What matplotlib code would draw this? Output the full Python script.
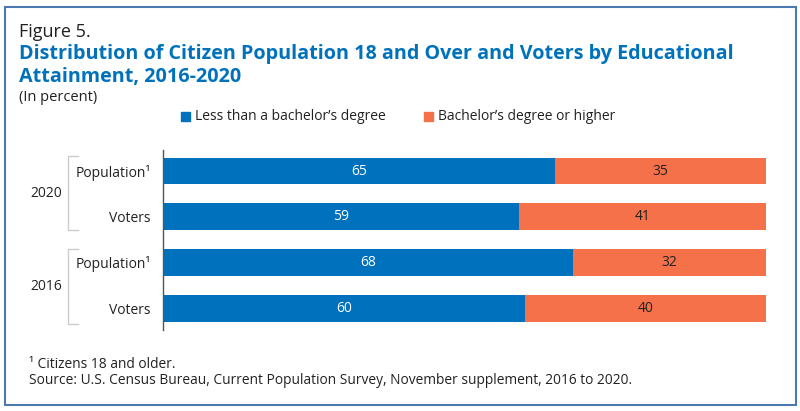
import matplotlib.pyplot as plt
from matplotlib.patches import Rectangle
from matplotlib.lines import Line2D

plt.rcParams['font.family'] = ['Open Sans', 'DejaVu Sans']

rows = ["Population¹", "Voters", "Population¹", "Voters"]
years = ["2020", "2016"]
less_than_ba = [65, 59, 68, 60]
ba_or_higher = [35, 41, 32, 40]
series_names = ["Less than a bachelor’s degree", "Bachelor’s degree or higher"]

blue = "#0071BC"
orange = "#F4714A"
W, H = 800, 411

fig = plt.figure(figsize=(8, 4.11), dpi=100)

# frame around the whole figure
fig.add_artist(Rectangle((5 / W, 1 - 405 / H), 791 / W, 398 / H, transform=fig.transFigure,
                         fill=False, edgecolor="#4A7AB0", linewidth=1.5))

fig.text(19 / W, 1 - 32 / H, "Figure 5.", fontsize=13, color="#222222", va="center")
fig.text(19 / W, 1 - 54 / H, "Distribution of Citizen Population 18 and Over and Voters by Educational",
         fontsize=14.2, fontweight="bold", color="#0072BC", va="center")
fig.text(19 / W, 1 - 77 / H, "Attainment, 2016-2020",
         fontsize=14.2, fontweight="bold", color="#0072BC", va="center")
fig.text(19 / W, 1 - 97 / H, "(In percent)", fontsize=10.5, color="#222222", va="center")

ax = fig.add_axes([163 / W, 1 - 330 / H, 603 / W, 180 / H])
pos = list(range(len(rows)))
ax.barh(pos, less_than_ba, height=0.59, color=blue, label=series_names[0])
ax.barh(pos, ba_or_higher, left=less_than_ba, height=0.59, color=orange, label=series_names[1])
for i in pos:
    ax.text(less_than_ba[i] / 2, i, str(less_than_ba[i]), ha="center", va="center",
            color="white", fontsize=10)
    ax.text(less_than_ba[i] + ba_or_higher[i] / 2, i, str(ba_or_higher[i]), ha="center",
            va="center", color="#222222", fontsize=10)
ax.set_xlim(0, 100)
ax.set_ylim(3.48, -0.46)
ax.set_yticks(pos)
ax.set_yticklabels(rows, fontsize=10, color="#222222")
ax.tick_params(axis="y", length=0, pad=9)
ax.set_xticks([])
for s in ["top", "right", "bottom"]:
    ax.spines[s].set_visible(False)
ax.spines["left"].set_color("#555555")
ax.spines["left"].set_linewidth(1)

# year groups with brackets
for k, yr in enumerate(years):
    top = [156, 249][k]
    bot = [230, 324][k]
    mid = (top + bot) / 2
    fig.text(62 / W, 1 - mid / H, yr, ha="right", va="center", fontsize=10, color="#222222")
    xs = [78 / W, 68 / W, 68 / W, 78 / W]
    ys = [1 - top / H, 1 - top / H, 1 - bot / H, 1 - bot / H]
    fig.add_artist(Line2D(xs, ys, transform=fig.transFigure, color="#CCCCCC", linewidth=1))

# legend
fig.add_artist(Rectangle((181 / W, 1 - 121 / H), 9 / W, 9 / H, transform=fig.transFigure, color=blue))
fig.text(195 / W, 1 - 116 / H, series_names[0], fontsize=10, color="#222222", va="center")
fig.add_artist(Rectangle((424 / W, 1 - 121 / H), 9 / W, 9 / H, transform=fig.transFigure, color=orange))
fig.text(438 / W, 1 - 116 / H, series_names[1], fontsize=10, color="#222222", va="center")

fig.text(29 / W, 1 - 364 / H, "¹ Citizens 18 and older.", fontsize=9.9, color="#222222", va="center")
fig.text(29 / W, 1 - 380 / H,
         "Source: U.S. Census Bureau, Current Population Survey, November supplement, 2016 to 2020.",
         fontsize=9.9, color="#222222", va="center")

fig.savefig("out.png", dpi=100)
